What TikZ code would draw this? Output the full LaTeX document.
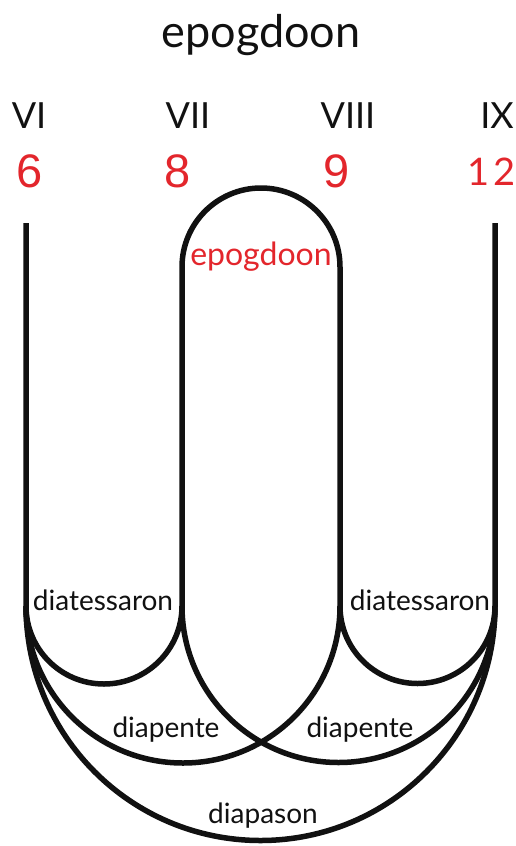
\documentclass[tikz,border=0pt]{standalone}
\usepackage{fontspec}
\setmainfont{Lato}
\newfontfamily\digitfont{Liberation Sans}
\usetikzlibrary{positioning}
\definecolor{numred}{HTML}{E3262C}
\definecolor{inkblack}{HTML}{111111}

\begin{document}
\begin{tikzpicture}[x=1pt, y=-1pt,
      every node/.style={inner sep=0pt, text=inkblack},
      title/.style={anchor=base, font=\fontsize{45}{45}\selectfont},
      roman/.style={anchor=base, font=\fontsize{36}{36}\selectfont},
      num/.style={anchor=base, text=numred, font=\digitfont\fontsize{47}{47}\selectfont},
      lbl/.style={anchor=base, font=\fontsize{28}{28}\selectfont},
      curve/.style={draw=inkblack, line width=5.5pt}
    ]
    \useasboundingbox[fill=white] (0,0) rectangle (515,846);

    \node[title] (head) at (261,47) {epogdoon};

    \node[roman] (rVI)   at (29,128)  {VI};
    \node[roman] (rVII)  at (188,128) {VII};
    \node[roman] (rVIII) at (348,128) {VIII};
    \node[roman] (rIX)   at (497,128) {IX};

    \node[num] (n6) at (30,187)  {6};
    \node[num] (n8) at (178,187) {8};
    \node[num] (n9) at (337,187) {9};
    \node[anchor=base, text=numred, font=\fontsize{38}{38}\selectfont] (n12) at (492,185) {1\kern4pt2};

    % foot points of the four strings
    \coordinate (f6)  at (26,606);
    \coordinate (f8)  at (182,606);
    \coordinate (f9)  at (340,606);
    \coordinate (f12) at (495,606);

    % strings and the epogdoon arch
    \draw[curve] (26,223) -- (f6) arc[start angle=180, end angle=0, radius=234.5] -- (495,223);
    \draw[curve] (f8) -- (182,267) arc[start angle=180, end angle=360, radius=79] -- (f9);

    % diatessaron, diapente
    \draw[curve] (f6) arc[start angle=180, end angle=0, radius=78];
    \draw[curve] (f9) arc[start angle=180, end angle=0, radius=77.5];
    \draw[curve] (f6) arc[start angle=180, end angle=0, radius=157];
    \draw[curve] (f8) arc[start angle=180, end angle=0, radius=156.5];

    \node[lbl, text=numred, font=\fontsize{32}{32}\selectfont] (inner) at (261,265) {epogdoon};
    \node[lbl] (dtL) at (103,610) {diatessaron};
    \node[lbl] (dtR) at (420,610) {diatessaron};
    \node[lbl] (dpL) at (166,737) {diapente};
    \node[lbl] (dpR) at (360,737) {diapente};
    \node[lbl] (dps) at (263,823) {diapason};
\end{tikzpicture}
\end{document}
